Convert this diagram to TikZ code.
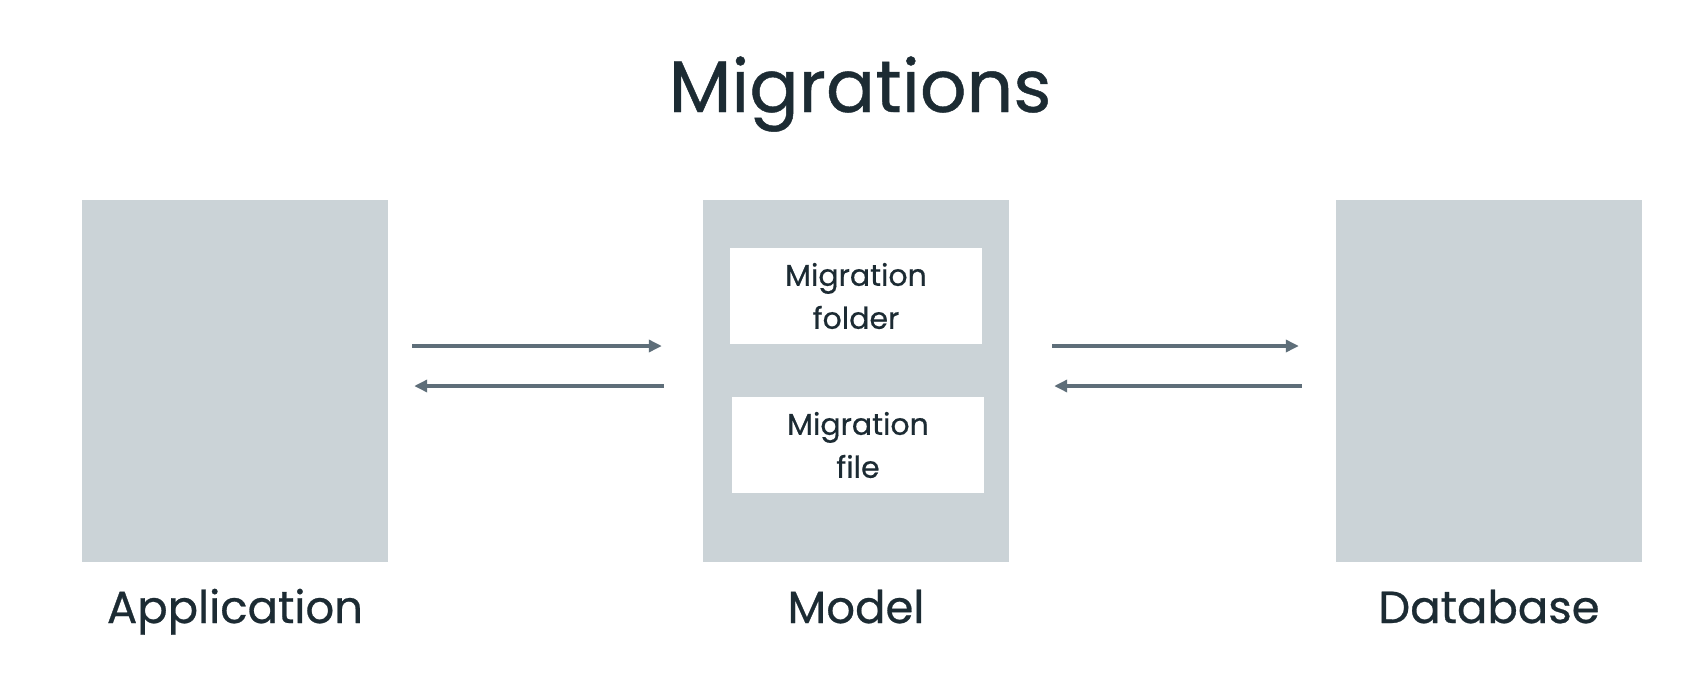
\documentclass[tikz,border=0pt]{standalone}
\usepackage{fontspec}
\setmainfont{Poppins}
\newfontfamily\medfont{Poppins}[FakeBold=0.6]
\usetikzlibrary{arrows.meta}
\definecolor{panel}{HTML}{CBD3D7}
\definecolor{ink}{HTML}{1C2B33}
\definecolor{arrowgrey}{HTML}{5E6E79}
\tikzset{
	panelbox/.style={fill=panel, draw=none, minimum width=306pt, minimum height=362pt, inner sep=0pt},
	filebox/.style={fill=white, draw=none, minimum width=252pt, minimum height=96pt, inner sep=0pt,
		align=center, text=ink, font=\medfont\fontsize{30}{43}\selectfont},
	caption/.style={anchor=base, text=ink, font=\medfont\fontsize{45}{45}\selectfont},
	flow/.style={draw=arrowgrey, line width=4pt, -{Triangle[length=13pt, width=12pt]}}
}
\begin{document}
\begin{tikzpicture}[x=1pt, y=-1pt]
		% фон
		\useasboundingbox [fill=white] ( 0, 0 ) rectangle ( 1695, 675 );

		% заголовок
		\node (title) [anchor=base, text=ink, font=\medfont\fontsize{73}{73}\selectfont] at ( 860, 112 ) {Migrations};

		% блоки
		\node (app)   [panelbox] at (  235, 381 ) {};
		\node (model) [panelbox] at (  856, 381 ) {};
		\node (db)    [panelbox] at ( 1489, 381 ) {};

		% внутри модели
		\node (folder) [filebox] at ( 856, 296 ) {Migration\\folder};
		\node (file)   [filebox] at ( 858, 445 ) {Migration\\file};

		% подписи
		\node (applabel)   [caption] at (  235, 623 ) {Application};
		\node (modellabel) [caption] at (  856, 623 ) {Model};
		\node (dblabel)    [caption] at ( 1489, 623 ) {Database};

		% стрелки
		\draw [flow, shorten <=24pt, shorten >=41pt] ([yshift=35pt]app.east) -- ([yshift=35pt]model.west);
		\draw [flow, shorten <=39pt, shorten >=26pt] ([yshift=-5pt]model.west) -- ([yshift=-5pt]app.east);
		\draw [flow, shorten <=43pt, shorten >=37pt] ([yshift=35pt]model.east) -- ([yshift=35pt]db.west);
		\draw [flow, shorten <=34pt, shorten >=45pt] ([yshift=-5pt]db.west) -- ([yshift=-5pt]model.east);
	\end{tikzpicture}
\end{document}
